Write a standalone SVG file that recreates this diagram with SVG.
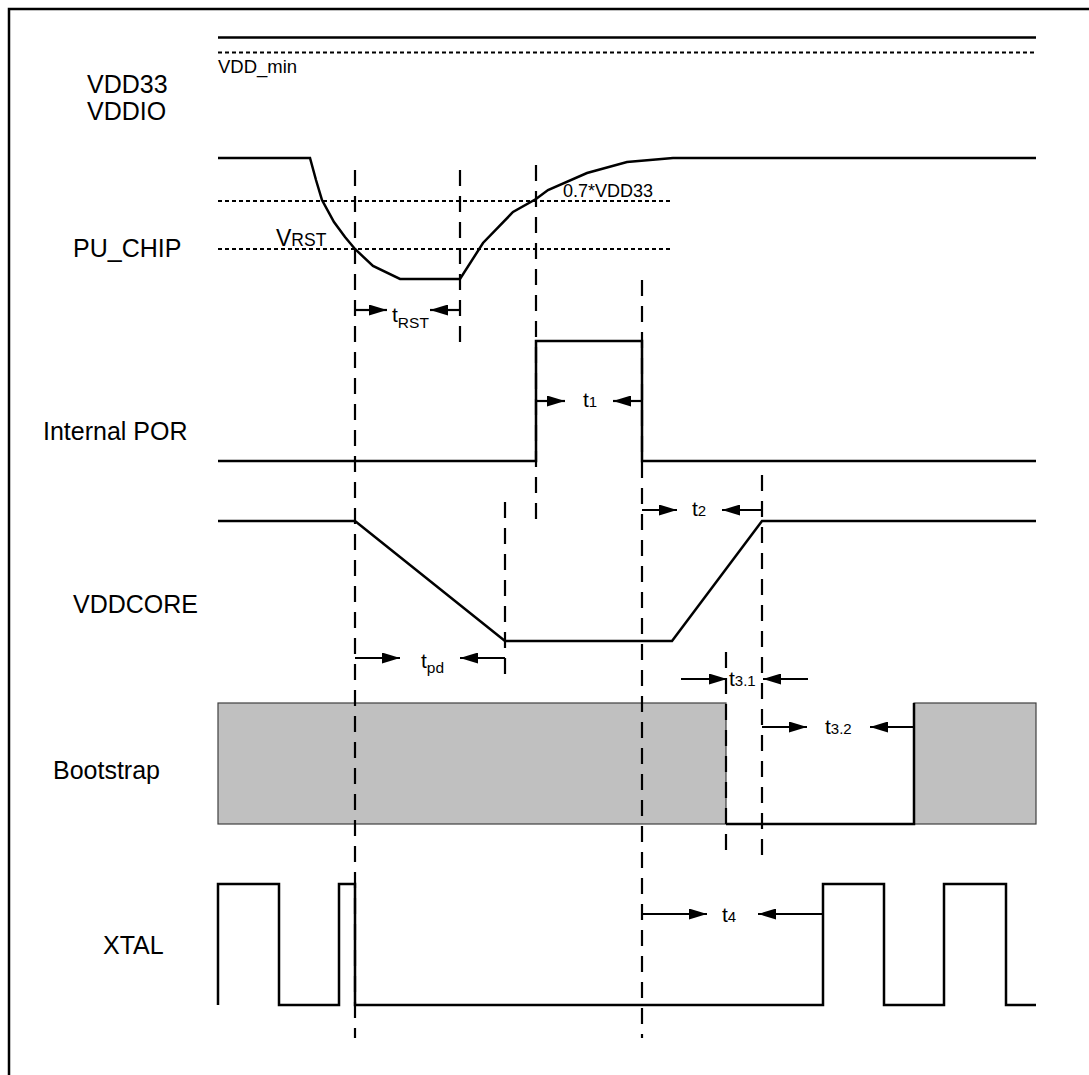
<svg xmlns="http://www.w3.org/2000/svg" width="1089" height="1075" viewBox="0 0 1089 1075">
<style>
.lbl{font-family:"Liberation Sans",Arial,sans-serif;font-size:25px;fill:#000}
.sm{font-family:"Liberation Sans",Arial,sans-serif;fill:#000}
.sig{fill:none;stroke:#000;stroke-width:2.5;stroke-linejoin:miter}
.dot{fill:none;stroke:#000;stroke-width:2;stroke-dasharray:4 3}
.dash{fill:none;stroke:#000;stroke-width:2.2;stroke-dasharray:16 10}
.dim{fill:none;stroke:#000;stroke-width:2.2;marker-end:url(#ah)}
.boot{fill:#c0c0c0;stroke:#404040;stroke-width:1.2}
</style>
<defs>
<marker id="ah" markerUnits="userSpaceOnUse" markerWidth="18" markerHeight="11" refX="18" refY="5.5" orient="auto">
<path d="M0,0 L18,5.5 L0,11 Z" fill="#000"/>
</marker>
</defs>
<rect width="1089" height="1075" fill="#fff"/>
<g id="frame"><path d="M9,1075 V9 H1089" fill="none" stroke="#000" stroke-width="2.5"/></g>

<g id="vdd33">
<text class="lbl" x="87" y="93">VDD33</text>
<text class="lbl" x="87" y="120">VDDIO</text>
<line class="sig" x1="218" y1="37.5" x2="1036" y2="37.5"/>
<line class="dot" x1="218" y1="52.5" x2="1036" y2="52.5"/>
<text class="sm" x="218" y="73" font-size="18.5">VDD_min</text>
</g>

<g id="pu_chip">
<text class="lbl" x="73" y="257">PU_CHIP</text>
<line class="dot" x1="218" y1="201" x2="673" y2="201"/>
<line class="dot" x1="218" y1="249" x2="673" y2="249"/>
<path class="sig" d="M218,158 H310 L316,180 L322,200 L334,222 L345,237 L355,249 L373,266 L400,279 H460 L483,243 L513,212 L536,199 L548,190 L587,173 L627,162 L673,158 H1036"/>
<text class="sm" x="563" y="197" font-size="18">0.7*VDD33</text>
<text class="sm" x="276" y="246"><tspan font-size="23">V</tspan><tspan font-size="17.5">RST</tspan></text>
</g>

<g id="internal_por">
<text class="lbl" x="43" y="440">Internal POR</text>
<path class="sig" d="M218,461 H536 V341 H642 V461 H1036"/>
</g>

<g id="vddcore">
<text class="lbl" x="73" y="613">VDDCORE</text>
<path class="sig" d="M218,521 H355 L505,641 H672 L762,521 H1036"/>
</g>

<g id="bootstrap">
<text class="lbl" x="53" y="779">Bootstrap</text>
<rect class="boot" x="218" y="703" width="508" height="121"/>
<rect class="boot" x="914" y="703" width="122" height="121"/>
<path class="sig" d="M726,824 H914 V703"/>
</g>

<g id="xtal">
<text class="lbl" x="103" y="954">XTAL</text>
<path class="sig" d="M218,1005 V884 H279 V1005 H339 V884 H355 V1005 H823 V884 H884 V1005 H944 V884 H1006 V1005 H1036"/>
</g>

<g id="connectors">
<line class="dash" x1="355" y1="170" x2="355" y2="1038"/>
<line class="dash" x1="460" y1="170" x2="460" y2="342"/>
<line class="dash" x1="536" y1="165" x2="536" y2="525"/>
<line class="dash" x1="642" y1="280" x2="642" y2="1038"/>
<line class="dash" x1="505" y1="502" x2="505" y2="674"/>
<line class="dash" x1="762" y1="475" x2="762" y2="857"/>
<line class="dash" x1="726" y1="652" x2="726" y2="857"/>

<line class="dim" x1="355" y1="310" x2="387" y2="310"/>
<line class="dim" x1="460" y1="310" x2="430" y2="310"/>
<line class="dim" x1="536" y1="401" x2="565" y2="401"/>
<line class="dim" x1="642" y1="401" x2="613" y2="401"/>
<line class="dim" x1="642" y1="510" x2="677" y2="510"/>
<line class="dim" x1="762" y1="510" x2="722" y2="510"/>
<line class="dim" x1="355" y1="658" x2="400" y2="658"/>
<line class="dim" x1="505" y1="658" x2="460" y2="658"/>
<line class="dim" x1="681" y1="679" x2="727" y2="679"/>
<line class="dim" x1="808" y1="679" x2="763" y2="679"/>
<line class="dim" x1="762" y1="727" x2="807" y2="727"/>
<line class="dim" x1="914" y1="727" x2="870" y2="727"/>
<line class="dim" x1="642" y1="914" x2="707" y2="914"/>
<line class="dim" x1="823" y1="914" x2="758" y2="914"/>
</g>

<g id="timing_labels">
<text class="sm" x="392" y="322" font-size="21">t<tspan font-size="15.5" dy="6">RST</tspan></text>
<text class="sm" x="583" y="407" font-size="21">t<tspan font-size="15">1</tspan></text>
<text class="sm" x="692" y="516" font-size="21">t<tspan font-size="15">2</tspan></text>
<text class="sm" x="421" y="668" font-size="21">t<tspan font-size="15.5" dy="5">pd</tspan></text>
<text class="sm" x="729" y="686" font-size="21">t<tspan font-size="15">3.1</tspan></text>
<text class="sm" x="825" y="734" font-size="21">t<tspan font-size="15">3.2</tspan></text>
<text class="sm" x="722" y="922" font-size="21">t<tspan font-size="15">4</tspan></text>
</g>
</svg>
